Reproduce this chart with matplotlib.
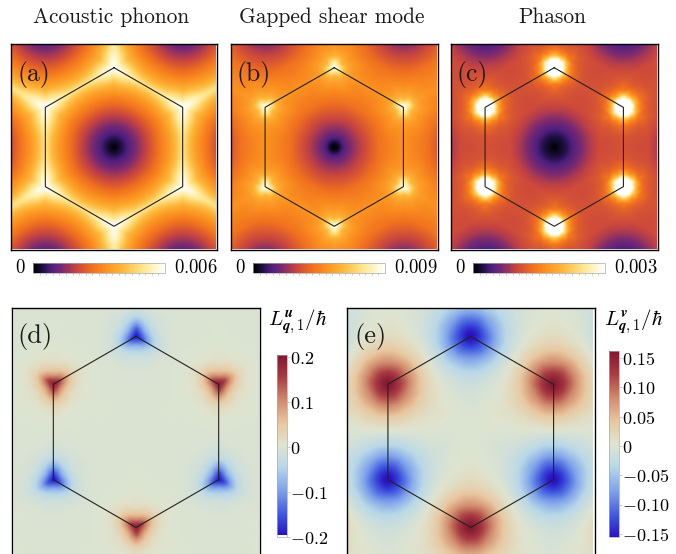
"""Phonon / phason spectral maps on the moire Brillouin zone."""

import matplotlib

matplotlib.use("Agg")

import matplotlib.pyplot as plt
import numpy as np
from matplotlib.cm import ScalarMappable
from matplotlib.colors import LinearSegmentedColormap, Normalize

plt.rcParams["mathtext.fontset"] = "cm"
plt.rcParams["font.family"] = ["cmr10", "DejaVu Serif"]
plt.rcParams["axes.formatter.use_mathtext"] = True

FIG_W, FIG_H = 676, 554

# estimates over one Gamma-K-M wedge
# rows: fraction of the way from zone centre to zone edge
# columns: angle in degrees away from the zone-corner direction
EDGE_FRACTION = [0, 0.05, 0.1, 0.17, 0.25, 0.35, 0.5, 0.65, 0.8, 0.9, 0.96, 1]
ANGLE_DEG = [0, 3, 7, 12, 20, 30]

acoustic = [
    [0, 0, 0, 0, 0, 0],
    [0.04, 0.039, 0.038, 0.036, 0.035, 0.035],
    [0.08, 0.078, 0.075, 0.073, 0.07, 0.069],
    [0.14, 0.136, 0.132, 0.127, 0.123, 0.121],
    [0.2, 0.194, 0.188, 0.182, 0.176, 0.173],
    [0.28, 0.272, 0.263, 0.255, 0.246, 0.242],
    [0.4, 0.388, 0.376, 0.364, 0.352, 0.346],
    [0.53, 0.515, 0.5, 0.485, 0.47, 0.465],
    [0.68, 0.67, 0.65, 0.62, 0.59, 0.58],
    [0.84, 0.83, 0.8, 0.75, 0.7, 0.68],
    [0.95, 0.93, 0.9, 0.85, 0.79, 0.77],
    [1, 0.98, 0.94, 0.88, 0.84, 0.82],
]
shear = [
    [0, 0, 0, 0, 0, 0],
    [0.04, 0.04, 0.035, 0.03, 0.03, 0.03],
    [0.13, 0.125, 0.12, 0.115, 0.11, 0.108],
    [0.205, 0.2, 0.195, 0.19, 0.18, 0.175],
    [0.26, 0.255, 0.25, 0.245, 0.24, 0.235],
    [0.33, 0.325, 0.315, 0.31, 0.3, 0.295],
    [0.42, 0.41, 0.4, 0.39, 0.38, 0.375],
    [0.5, 0.49, 0.48, 0.47, 0.46, 0.46],
    [0.58, 0.575, 0.56, 0.54, 0.51, 0.5],
    [0.68, 0.66, 0.61, 0.56, 0.53, 0.53],
    [0.88, 0.8, 0.65, 0.58, 0.55, 0.55],
    [1, 0.9, 0.68, 0.6, 0.56, 0.55],
]
phason = [
    [0, 0, 0, 0, 0, 0],
    [0.03, 0.03, 0.03, 0.028, 0.026, 0.026],
    [0.06, 0.058, 0.056, 0.054, 0.052, 0.052],
    [0.1, 0.098, 0.094, 0.09, 0.085, 0.083],
    [0.16, 0.155, 0.15, 0.145, 0.14, 0.138],
    [0.23, 0.222, 0.213, 0.205, 0.198, 0.194],
    [0.33, 0.32, 0.31, 0.3, 0.29, 0.285],
    [0.38, 0.375, 0.37, 0.36, 0.35, 0.35],
    [0.5, 0.45, 0.41, 0.38, 0.36, 0.35],
    [1.05, 0.77, 0.52, 0.42, 0.37, 0.36],
    [1.28, 1.15, 0.69, 0.46, 0.38, 0.36],
    [1.3, 1.25, 0.8, 0.48, 0.38, 0.36],
]
curvature_u = [
    [0, 0, 0, 0, 0, 0],
    [0, 0, 0, 0, 0, 0],
    [0, 0, 0, 0, 0, 0],
    [0, 0, 0, 0, 0, 0],
    [0, 0, 0, 0, 0, 0],
    [0, 0, 0, 0, 0, 0],
    [0.001, 0.001, 0.001, 0, 0, 0],
    [0.004, 0.003, 0.002, 0.001, 0, 0],
    [0.02, 0.016, 0.01, 0.005, 0.001, 0],
    [0.08, 0.06, 0.037, 0.015, 0.003, 0],
    [0.155, 0.12, 0.07, 0.028, 0.006, 0],
    [0.2, 0.165, 0.095, 0.032, 0.007, 0],
]
curvature_v = [
    [0, 0, 0, 0, 0, 0],
    [0, 0, 0, 0, 0, 0],
    [0, 0, 0, 0, 0, 0],
    [0.001, 0.001, 0.001, 0, 0, 0],
    [0.003, 0.003, 0.002, 0.002, 0.001, 0],
    [0.006, 0.006, 0.005, 0.004, 0.002, 0],
    [0.014, 0.014, 0.011, 0.008, 0.004, 0],
    [0.04, 0.036, 0.028, 0.02, 0.01, 0],
    [0.09, 0.08, 0.065, 0.046, 0.022, 0],
    [0.135, 0.12, 0.1, 0.07, 0.032, 0],
    [0.155, 0.14, 0.115, 0.082, 0.036, 0],
    [0.162, 0.15, 0.12, 0.086, 0.036, 0],
]

top_titles = ["Acoustic phonon", "Gapped shear mode", "Phason"]
top_letters = ["(a)", "(b)", "(c)"]
top_max_labels = ["0.006", "0.009", "0.003"]
ticks_u = [-0.2, -0.1, 0, 0.1, 0.2]
tick_labels_u = ["$-0.2$", "$-0.1$", "$0$", "$0.1$", "$0.2$"]
ticks_v = [-0.15, -0.10, -0.05, 0, 0.05, 0.10, 0.15]
tick_labels_v = ["$-0.15$", "$-0.10$", "$-0.05$", "$0$", "$0.05$", "$0.10$", "$0.15$"]

sunset = LinearSegmentedColormap.from_list(
    "sunset",
    [
        (0.0, "#000000"),
        (0.07, "#1c0f3f"),
        (0.14, "#4f1f80"),
        (0.22, "#7b2a70"),
        (0.33, "#c8453f"),
        (0.45, "#f0701f"),
        (0.55, "#fb9020"),
        (0.68, "#fdb83a"),
        (0.83, "#ffe58c"),
        (0.93, "#fff7d0"),
        (1.0, "#ffffff"),
    ],
)
diverging = LinearSegmentedColormap.from_list(
    "diverging",
    [
        (0.0, "#2a14c0"),
        (0.1, "#3a50dc"),
        (0.25, "#80a4ea"),
        (0.38, "#b9d8e8"),
        (0.5, "#dfe4d0"),
        (0.62, "#e8c8a0"),
        (0.75, "#d08a6c"),
        (0.88, "#a83a42"),
        (1.0, "#7f1730"),
    ],
)


def px_axes(fig, left, top, right, bottom):
    """Axes placed by pixel edges of the final picture."""
    return fig.add_axes(
        [
            left / FIG_W,
            1 - bottom / FIG_H,
            (right - left) / FIG_W,
            (bottom - top) / FIG_H,
        ]
    )


def wedge_map(table, odd=False, size=420):
    """Spread a wedge table over the periodic zone pattern."""
    table = np.array(table, dtype=float)
    axis = np.linspace(-1.5, 1.5, size)
    x, y = np.meshgrid(axis, axis)

    # fold onto the nearest lattice point
    best = np.full(x.shape, np.inf)
    fx, fy = x.copy(), y.copy()
    for i in range(-3, 4):
        for j in range(-3, 4):
            dx = x - (2 * i + j)
            dy = y - np.sqrt(3) * j
            dist = dx**2 + dy**2
            near = dist < best
            best[near] = dist[near]
            fx[near] = dx[near]
            fy[near] = dy[near]

    angle = np.degrees(np.arctan2(fx, fy))
    sector = np.round(angle / 60)
    wedge = np.abs(angle - 60 * sector)
    edge = 1 / np.cos(np.radians(30 - wedge))
    frac = np.clip(np.hypot(fx, fy) / edge, 0, 1)

    rows = np.interp(frac, EDGE_FRACTION, np.arange(len(EDGE_FRACTION)))
    cols = np.interp(wedge, ANGLE_DEG, np.arange(len(ANGLE_DEG)))
    r0 = np.minimum(rows.astype(int), table.shape[0] - 2)
    c0 = np.minimum(cols.astype(int), table.shape[1] - 2)
    tr, tc = rows - r0, cols - c0
    out = (
        table[r0, c0] * (1 - tr) * (1 - tc)
        + table[r0 + 1, c0] * tr * (1 - tc)
        + table[r0, c0 + 1] * (1 - tr) * tc
        + table[r0 + 1, c0 + 1] * tr * tc
    )
    if odd:
        out = out * -np.where(sector.astype(int) % 2 == 0, 1, -1)

    # light smoothing to hide the table facets
    kernel = np.array([1, 2, 3, 2, 1]) / 9
    out = np.apply_along_axis(lambda v: np.convolve(v, kernel, mode="same"), 0, out)
    out = np.apply_along_axis(lambda v: np.convolve(v, kernel, mode="same"), 1, out)
    return out[3:-3, 3:-3], axis[3], axis[-4]


def draw_map(ax, table, cmap, vmin, vmax, scale=1.0, odd=False):
    data, lo, hi = wedge_map(table, odd=odd)
    ax.imshow(
        data * scale,
        origin="lower",
        extent=[lo, hi, lo, hi],
        cmap=cmap,
        vmin=vmin,
        vmax=vmax,
        interpolation="bilinear",
        aspect="auto",
    )
    ax.set_xlim(-1.5, 1.5)
    ax.set_ylim(-1.5, 1.5)
    corners = np.radians(np.arange(0, 390, 60))
    radius = 2 / np.sqrt(3)
    ax.plot(radius * np.sin(corners), radius * np.cos(corners), color="#222222", lw=0.8)
    ax.set_xticks([])
    ax.set_yticks([])
    for spine in ax.spines.values():
        spine.set_linewidth(1.0)
        spine.set_color("black")


def main():
    fig = plt.figure(figsize=(FIG_W / 100, FIG_H / 100), dpi=100)

    top_boxes = [(11, 217), (230.5, 438), (450.5, 658)]
    bar_boxes = [(33, 165), (253, 385), (473, 605)]
    title_x = [111, 332, 552]
    tables = [acoustic, shear, phason]
    for idx, (left, right) in enumerate(top_boxes):
        ax = px_axes(fig, left, 44, right, 250)
        draw_map(ax, tables[idx], sunset, 0, 1)
        ax.text(0.03, 0.85, top_letters[idx], transform=ax.transAxes, fontsize=18.5,
                va="center", ha="left", color="#1a1a1a")
        fig.text(title_x[idx] / FIG_W, 1 - 17 / FIG_H, top_titles[idx],
                 fontsize=15.4, ha="center", va="center", color="#1a1a1a")

        b_left, b_right = bar_boxes[idx]
        cax = px_axes(fig, b_left, 263, b_right, 273)
        cbar = fig.colorbar(ScalarMappable(Normalize(0, 1), sunset), cax=cax,
                            orientation="horizontal")
        cbar.set_ticks(np.arange(0.05, 1, 0.05))
        cbar.set_ticklabels([])
        cax.tick_params(axis="x", length=1.5, width=0.4, color="#999999")
        cbar.outline.set_linewidth(0.5)
        cbar.outline.set_edgecolor("#aaaaaa")
        fig.text((b_left - 13) / FIG_W, 1 - 268 / FIG_H, "$0$", fontsize=13.5,
                 ha="center", va="center")
        fig.text((b_right + 9) / FIG_W, 1 - 268 / FIG_H, f"${top_max_labels[idx]}$",
                 fontsize=13.5, ha="left", va="center")

    # lower row runs past the bottom of the picture
    ax_d = px_axes(fig, 12, 308, 260, 556)
    draw_map(ax_d, curvature_u, diverging, -0.195, 0.205, odd=True)
    ax_d.text(0.02, 0.885, "(d)", transform=ax_d.transAxes, fontsize=19, va="center",
              color="#1a1a1a")

    ax_e = px_axes(fig, 346.5, 308, 595, 556)
    draw_map(ax_e, curvature_v, diverging, -0.155, 0.162, odd=True)
    ax_e.text(0.03, 0.885, "(e)", transform=ax_e.transAxes, fontsize=19, va="center",
              color="#1a1a1a")

    cax_d = px_axes(fig, 277, 355, 287, 537)
    cbar_d = fig.colorbar(ScalarMappable(Normalize(-0.195, 0.205), diverging), cax=cax_d)
    cbar_d.set_ticks(ticks_u, labels=tick_labels_u)
    cbar_d.set_ticks(np.arange(-0.175, 0.2, 0.025), minor=True)
    cax_e = px_axes(fig, 609, 351, 619, 537)
    cbar_e = fig.colorbar(ScalarMappable(Normalize(-0.155, 0.162), diverging), cax=cax_e)
    cbar_e.set_ticks(ticks_v, labels=tick_labels_v)
    cbar_e.set_ticks(np.arange(-0.14, 0.15, 0.01), minor=True)
    for cax, cbar in [(cax_d, cbar_d), (cax_e, cbar_e)]:
        cax.tick_params(axis="y", which="major", length=2, width=0.4, color="#aaaaaa",
                        labelsize=13, pad=0.5)
        cax.tick_params(axis="y", which="minor", length=1, width=0.3, color="#bbbbbb")
        cbar.outline.set_linewidth(0.5)
        cbar.outline.set_edgecolor("#aaaaaa")

    fig.text(298 / FIG_W, 1 - 322 / FIG_H, r"$L^{\boldsymbol{u}}_{\boldsymbol{q},1}/\hbar$",
             fontsize=15, ha="center", va="center")
    fig.text(634 / FIG_W, 1 - 322 / FIG_H, r"$L^{\boldsymbol{v}}_{\boldsymbol{q},1}/\hbar$",
             fontsize=15, ha="center", va="center")

    fig.savefig("out.png", dpi=100)
    plt.close(fig)


if __name__ == "__main__":
    main()
